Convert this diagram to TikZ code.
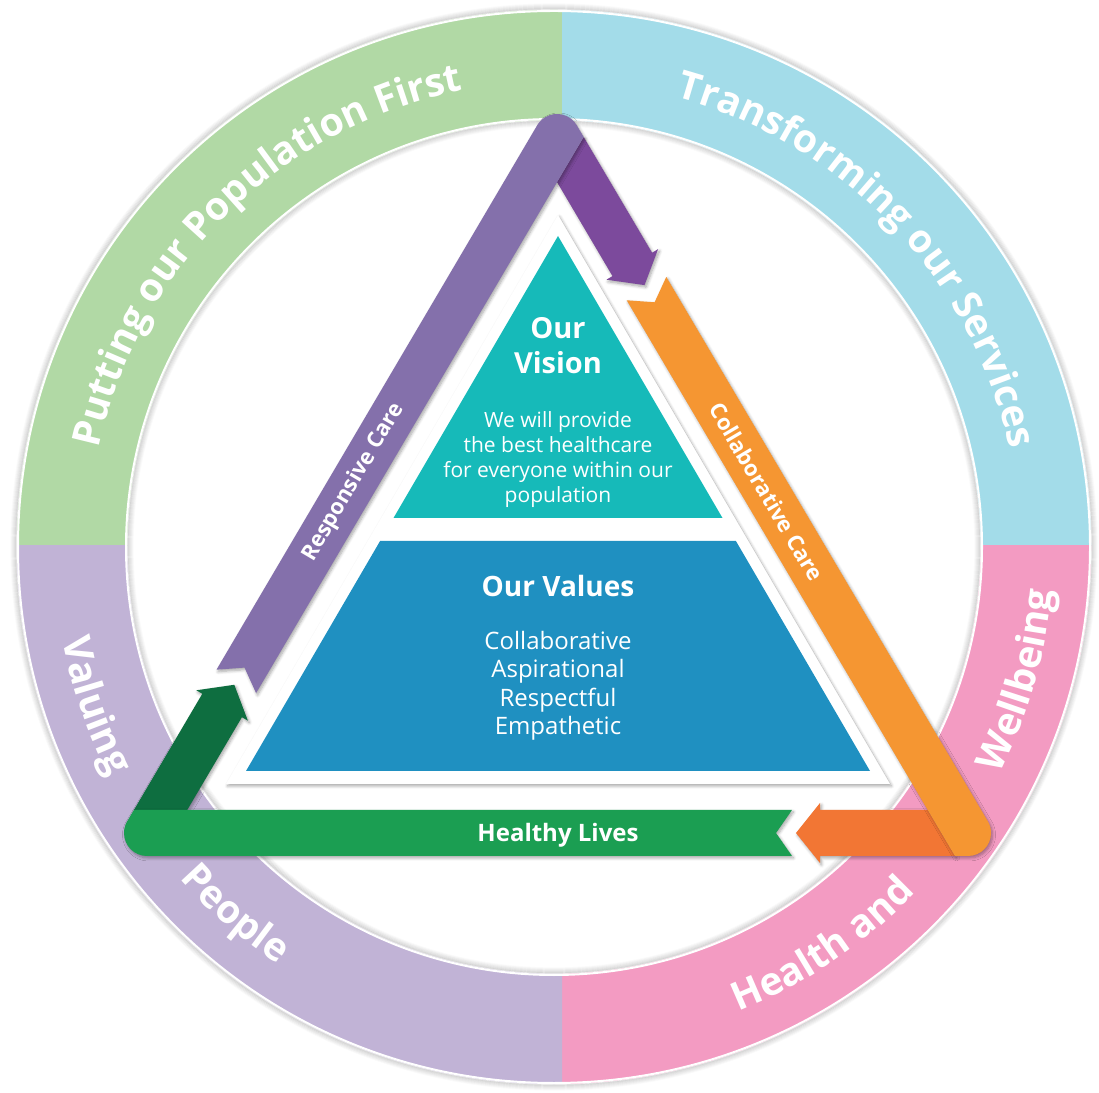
\documentclass[tikz,border=0pt]{standalone}
\usepackage{fontspec}
\setmainfont{Open Sans}
\usetikzlibrary{calc,decorations.text,shadows.blur,positioning}
\definecolor{ringgreen}{RGB}{177,217,165}
\definecolor{ringblue}{RGB}{163,220,233}
\definecolor{ringpink}{RGB}{243,155,194}
\definecolor{ringlilac}{RGB}{193,179,214}
\definecolor{bandgreen}{RGB}{27,158,82}
\definecolor{bandgreendark}{RGB}{14,110,64}
\definecolor{bandpurple}{RGB}{132,112,171}
\definecolor{bandpurpledark}{RGB}{124,74,156}
\definecolor{bandorange}{RGB}{245,150,50}
\definecolor{bandorangedark}{RGB}{242,118,52}
\definecolor{visionteal}{RGB}{22,186,185}
\definecolor{valuesblue}{RGB}{31,144,193}
\newcommand\ringfont{\fontsize{39}{39}\selectfont\bfseries}

\begin{document}
\begin{tikzpicture}[x=1pt, y=1pt,
  bandshadow/.style={blur shadow={shadow xshift=1.5pt, shadow yshift=-2pt, shadow blur radius=3pt, shadow blur steps=6, shadow opacity=35}},
  ringlabel/.style={decorate, decoration={text along path, text align=center, text color=white}},
  bandlabel/.style={text=white, font=\fontsize{22}{22}\selectfont\bfseries, inner sep=0pt},
  headtext/.style={text=white, font=\fontsize{29}{29}\selectfont\bfseries, anchor=base, inner sep=0pt},
  bodytext/.style={text=white, font=\fontsize{21}{21}\selectfont, anchor=base, inner sep=0pt}
]
  \useasboundingbox (0,0) rectangle (1099,1092);
  \coordinate (O) at (554,545);

  % outer ring, one colour per quarter
  \foreach \col/\xa/\ya/\xb/\yb in {ringgreen/0/546/562/1092, ringblue/562/546/1099/1092,
                                    ringpink/562/0/1099/546, ringlilac/0/0/562/546}{
    \begin{scope}
      \clip (\xa,\ya) rectangle (\xb,\yb);
      \fill[\col, even odd rule] (O) circle[radius=537] circle[radius=427];
    \end{scope}
  }
  % soft edge shading and white rims
  \foreach \i in {1,...,6}{
    \draw[black, opacity={0.15-0.022*\i}, line width=1.2pt] (O) circle[radius=537+\i];
    \draw[black, opacity={0.15-0.022*\i}, line width=1.2pt] (O) circle[radius=427-\i];
  }
  \draw[white, line width=2pt] (O) circle[radius=536];
  \draw[white, line width=2pt] (O) circle[radius=428];

  % ring titles
  \path[ringlabel, decoration={text={|\ringfont|Putting our Population First}}]
    ($(O)+(194.5:466)$) arc[start angle=194.5, end angle=74.5, radius=466];
  \path[ringlabel, decoration={text={|\ringfont|Transforming our Services}}]
    ($(O)+(103.5:466)$) arc[start angle=103.5, end angle=-16.5, radius=466];
  \path[ringlabel, decoration={text={|\ringfont|Valuing}}]
    ($(O)+(169:500)$) arc[start angle=169, end angle=229, radius=500];
  \path[ringlabel, decoration={text={|\ringfont|People}}]
    ($(O)+(199:500)$) arc[start angle=199, end angle=259, radius=500];
  \path[ringlabel, decoration={text={|\ringfont|Health and}}]
    ($(O)+(274:500)$) arc[start angle=274, end angle=334, radius=500];
  \path[ringlabel, decoration={text={|\ringfont|Wellbeing}}]
    ($(O)+(314:500)$) arc[start angle=314, end angle=374, radius=500];

  % triangle of arrows: darker continuations first
  \fill[bandgreendark, bandshadow] (133.9,282) -- (187.2,282) -- (241.9,374.8) -- (247.9,371.3)
    -- (234.3,407.2) -- (196.3,401.7) -- (202.3,398.2) -- cycle;
  \fill[bandpurpledark, bandshadow] (557,910) -- (583.7,955) -- (652.1,839.3) -- (658.1,842.9)
    -- (644.5,806.9) -- (606.5,812.3) -- (612.5,815.9) -- cycle;
  \fill[bandorangedark, bandshadow] (927.7,282) -- (954.9,236) -- (820,236) -- (820,229)
    -- (796,259) -- (820,289) -- (820,282) -- cycle;
  % main strips, each one wrapping a corner
  \fill[bandgreen, bandshadow] (792,282) -- (776,259) -- (792,236) -- (147,236)
    arc[start angle=270, end angle=149.5, radius=23] -- (133.9,282) -- cycle;
  \fill[bandpurple, bandshadow] (216.5,422.3) -- (244.5,424.4) -- (256.1,398.9) -- (583.7,955)
    -- (576.8,966.7) arc[start angle=30.56, end angle=149.5, radius=23] -- cycle;
  \fill[bandorange, bandshadow] (666.3,815.1) -- (654.6,789.7) -- (626.7,791.7) -- (954.9,236)
    -- (968,236) arc[start angle=-90, end angle=30.56, radius=23] -- cycle;

  \node[bandlabel, rotate=59.5] (responsive) at (353.6,609.7) {Responsive Care};
  \node[bandlabel, rotate=-59.44] (collaborative) at (766.5,600.2) {Collaborative Care};
  \node[bandlabel, anchor=base, font=\fontsize{24}{24}\selectfont\bfseries] (healthy) at (558,250) {Healthy Lives};

  % vision and values pyramid
  \fill[white, bandshadow] (558,877) -- (890,308) -- (226,308) -- cycle;
  \fill[visionteal] (558,856) -- (722.5,574) -- (393.5,574) -- cycle;
  \fill[valuesblue] (380.1,551) -- (735.9,551) -- (870,321) -- (246,321) -- cycle;

  \node[headtext] (visiontop) at (558,753) {Our};
  \node[headtext] (visionbottom) at (558,718) {Vision};
  \foreach \line [count=\i] in {We will provide, the best healthcare, for everyone within our, population}
    \node[bodytext] (vision\i) at (558,689-25*\i) {\line};

  \node[headtext, font=\fontsize{28}{28}\selectfont\bfseries] (values) at (558,495) {Our Values};
  \foreach \line [count=\i] in {Collaborative, Aspirational, Respectful, Empathetic}
    \node[bodytext, font=\fontsize{24}{24}\selectfont] (value\i) at (558,471-28.5*\i) {\line};
\end{tikzpicture}
\end{document}
